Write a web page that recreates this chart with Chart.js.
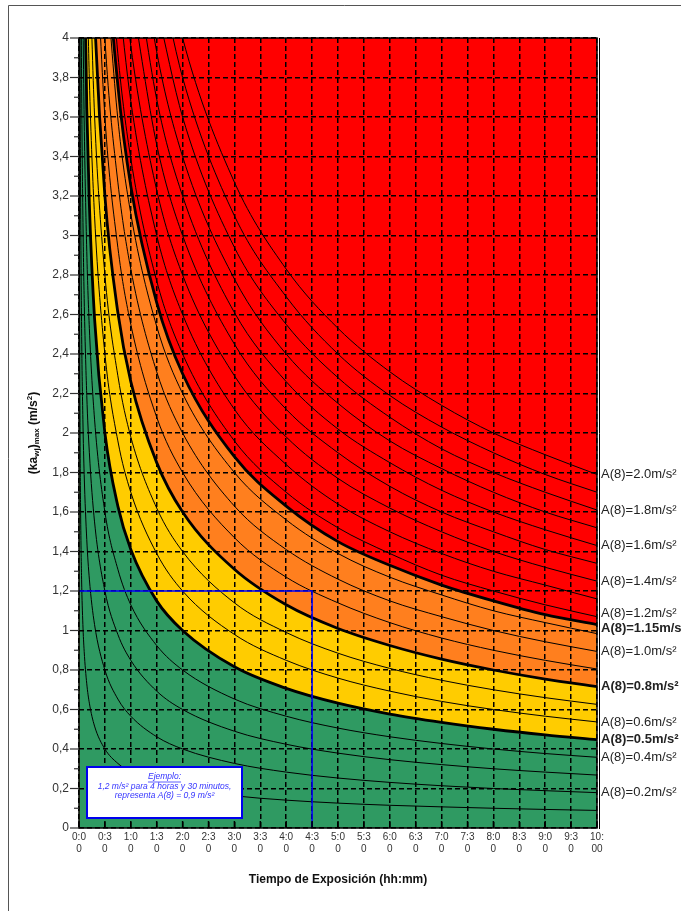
<!DOCTYPE html>
<html>
<head>
<meta charset="utf-8">
<script src="https://cdn.jsdelivr.net/npm/chart.js@4.4.1/dist/chart.umd.min.js"></script>
<style>
    html, body { margin: 0; padding: 0; background: #fff; }
    #wrap { width: 681px; height: 911px; }
</style>
</head>
<body>
<div id="wrap"><canvas id="vibChart" width="681" height="911"></canvas></div>
<script>
const timeHours = [0.003, 0.005, 0.01, 0.02, 0.03, 0.05, 0.075, 0.1, 0.15, 0.2, 0.3, 0.5, 0.75, 1, 1.5, 2, 3, 4, 5, 6, 7, 8, 9, 10];

const accA01 = [5.16, 4.0, 2.83, 2.0, 1.63, 1.26, 1.03, 0.894, 0.730, 0.632, 0.516, 0.400, 0.327, 0.283, 0.231, 0.200, 0.163, 0.141, 0.126, 0.115, 0.107, 0.100, 0.094, 0.089];
const accA02 = [null, null, 5.66, 4.0, 3.27, 2.53, 2.07, 1.79, 1.46, 1.26, 1.03, 0.800, 0.653, 0.566, 0.462, 0.400, 0.327, 0.283, 0.253, 0.231, 0.214, 0.200, 0.189, 0.179];
const accA03 = [null, null, null, null, 4.90, 3.79, 3.10, 2.68, 2.19, 1.90, 1.55, 1.20, 0.980, 0.849, 0.693, 0.600, 0.490, 0.424, 0.379, 0.346, 0.321, 0.300, 0.283, 0.268];
const accA04 = [null, null, null, null, null, null, 4.13, 3.58, 2.92, 2.53, 2.07, 1.60, 1.31, 1.13, 0.924, 0.800, 0.653, 0.566, 0.506, 0.462, 0.428, 0.400, 0.377, 0.358];
const accA05 = [25.8, 20.0, 14.1, 10.0, 8.16, 6.32, 5.16, 4.47, 3.65, 3.16, 2.58, 2.00, 1.63, 1.41, 1.15, 1.00, 0.816, 0.707, 0.632, 0.577, 0.535, 0.500, 0.471, 0.447];
const accA06 = [null, null, null, null, null, null, null, null, 4.38, 3.79, 3.10, 2.40, 1.96, 1.70, 1.39, 1.20, 0.980, 0.849, 0.759, 0.693, 0.641, 0.600, 0.566, 0.537];
const accA07 = [null, null, null, null, null, null, null, null, null, 4.43, 3.61, 2.80, 2.29, 1.98, 1.62, 1.40, 1.14, 0.990, 0.885, 0.808, 0.748, 0.700, 0.660, 0.626];
const accA08 = [41.3, 32.0, 22.6, 16.0, 13.1, 10.1, 8.26, 7.16, 5.84, 5.06, 4.13, 3.20, 2.61, 2.26, 1.85, 1.60, 1.31, 1.13, 1.01, 0.924, 0.855, 0.800, 0.754, 0.716];
const accA09 = [null, null, null, null, null, null, null, null, null, null, 4.65, 3.60, 2.94, 2.55, 2.08, 1.80, 1.47, 1.27, 1.14, 1.04, 0.962, 0.900, 0.849, 0.805];
const accA10 = [null, null, null, null, null, null, null, null, null, null, 5.16, 4.00, 3.27, 2.83, 2.31, 2.00, 1.63, 1.41, 1.26, 1.15, 1.07, 1.00, 0.943, 0.894];
const accA11 = [null, null, null, null, null, null, null, null, null, null, null, 4.40, 3.59, 3.11, 2.54, 2.20, 1.80, 1.56, 1.39, 1.27, 1.18, 1.10, 1.04, 0.984];
const accA115 = [59.4, 46.0, 32.5, 23.0, 18.8, 14.5, 11.9, 10.3, 8.40, 7.27, 5.94, 4.60, 3.76, 3.25, 2.66, 2.30, 1.88, 1.63, 1.45, 1.33, 1.23, 1.15, 1.08, 1.03];
const accA12 = [null, null, null, null, null, null, null, null, null, null, null, 4.80, 3.92, 3.39, 2.77, 2.40, 1.96, 1.70, 1.52, 1.39, 1.28, 1.20, 1.13, 1.07];
const accA13 = [null, null, null, null, null, null, null, null, null, null, null, null, 4.25, 3.68, 3.00, 2.60, 2.12, 1.84, 1.64, 1.50, 1.39, 1.30, 1.23, 1.16];
const accA14 = [null, null, null, null, null, null, null, null, null, null, null, null, 4.57, 3.96, 3.23, 2.80, 2.29, 1.98, 1.77, 1.62, 1.50, 1.40, 1.32, 1.25];
const accA15 = [null, null, null, null, null, null, null, null, null, null, null, null, null, 4.24, 3.46, 3.00, 2.45, 2.12, 1.90, 1.73, 1.60, 1.50, 1.41, 1.34];
const accA16 = [null, null, null, null, null, null, null, null, null, null, null, null, null, 4.53, 3.69, 3.20, 2.61, 2.26, 2.02, 1.85, 1.71, 1.60, 1.51, 1.43];
const accA17 = [null, null, null, null, null, null, null, null, null, null, null, null, null, 4.81, 3.93, 3.40, 2.78, 2.40, 2.15, 1.96, 1.82, 1.70, 1.60, 1.52];
const accA18 = [null, null, null, null, null, null, null, null, null, null, null, null, null, null, 4.16, 3.60, 2.94, 2.55, 2.28, 2.08, 1.92, 1.80, 1.70, 1.61];
const accA19 = [null, null, null, null, null, null, null, null, null, null, null, null, null, null, 4.39, 3.80, 3.10, 2.69, 2.40, 2.19, 2.03, 1.90, 1.79, 1.70];
const accA20 = [null, null, null, null, null, null, null, null, null, null, null, null, null, null, 4.62, 4.00, 3.27, 2.83, 2.53, 2.31, 2.14, 2.00, 1.89, 1.79];

const boldLevels = [0.5, 0.8, 1.15];
const labelLevels = [2.0, 1.8, 1.6, 1.4, 1.2, 1.15, 1.0, 0.8, 0.6, 0.5, 0.4, 0.2];
const labelTexts = ['A(8)=2.0m/s²', 'A(8)=1.8m/s²', 'A(8)=1.6m/s²', 'A(8)=1.4m/s²', 'A(8)=1.2m/s²', 'A(8)=1.15m/s²',
    'A(8)=1.0m/s²', 'A(8)=0.8m/s²', 'A(8)=0.6m/s²', 'A(8)=0.5m/s²', 'A(8)=0.4m/s²', 'A(8)=0.2m/s²'];

// Worked example: 1.2 m/s² for 4 h 30 min
const exampleTime = [0, 4.5, 4.5];
const exampleAccel = [1.2, 1.2, 0];

const xTickLabels = ['0:00', '0:30', '1:00', '1:30', '2:00', '2:30', '3:00', '3:30', '4:00', '4:30', '5:00',
    '5:30', '6:00', '6:30', '7:00', '7:30', '8:00', '8:30', '9:00', '9:30', '10:00'];
const yTickLabels = ['0', '0,2', '0,4', '0,6', '0,8', '1', '1,2', '1,4', '1,6', '1,8', '2',
    '2,2', '2,4', '2,6', '2,8', '3', '3,2', '3,4', '3,6', '3,8', '4'];

const curves = [
    { level: 0.1, values: accA01 }, { level: 0.2, values: accA02 }, { level: 0.3, values: accA03 },
    { level: 0.4, values: accA04 }, { level: 0.5, values: accA05 }, { level: 0.6, values: accA06 },
    { level: 0.7, values: accA07 }, { level: 0.8, values: accA08 }, { level: 0.9, values: accA09 },
    { level: 1.0, values: accA10 }, { level: 1.1, values: accA11 }, { level: 1.15, values: accA115 },
    { level: 1.2, values: accA12 }, { level: 1.3, values: accA13 }, { level: 1.4, values: accA14 },
    { level: 1.5, values: accA15 }, { level: 1.6, values: accA16 }, { level: 1.7, values: accA17 },
    { level: 1.8, values: accA18 }, { level: 1.9, values: accA19 }, { level: 2.0, values: accA20 }
];

const FONT = '"Liberation Sans", Arial, sans-serif';
const zoneGreen = '#2F9A62';
const zoneYellow = '#FFCC00';
const zoneOrange = '#FF7F1E';
const zoneRed = '#FF0000';

function toPoints(values, times) {
    return times.map((t, i) => ({ x: t, y: values[i] })).filter(p => p.y !== null);
}

const datasets = [];

// Example path on top
datasets.push({
    data: toPoints(exampleAccel, exampleTime),
    borderColor: '#0000FF',
    borderWidth: 1.5,
    tension: 0,
    cubicInterpolationMode: 'default',
    fill: false,
    order: 0
});

// Iso-A(8) curves
curves.forEach(c => {
    datasets.push({
        data: toPoints(c.values, timeHours),
        borderColor: '#000',
        borderWidth: boldLevels.includes(c.level) ? 2.8 : 1,
        fill: false,
        order: 1
    });
});

// Colour zones (drawn before the grid)
const zones = [
    { values: accA05, fill: 'origin', color: zoneGreen, order: 10 },
    { values: accA08, fill: 'origin', color: zoneYellow, order: 11 },
    { values: accA115, fill: 'origin', color: zoneOrange, order: 12 },
    { values: accA115, fill: 'end', color: zoneRed, order: 13 }
];
zones.forEach(z => {
    datasets.push({
        data: toPoints(z.values, timeHours),
        borderColor: 'rgba(0,0,0,0)',
        borderWidth: 0,
        backgroundColor: z.color,
        fill: z.fill,
        order: z.order
    });
});

function drawLine(ctx, x1, y1, x2, y2) {
    ctx.beginPath();
    ctx.moveTo(x1, y1);
    ctx.lineTo(x2, y2);
    ctx.stroke();
}

const overlayPlugin = {
    id: 'overlay',
    afterDraw(chart) {
        const { ctx, chartArea: a } = chart;
        const xs = chart.scales.x;
        const ys = chart.scales.y;
        ctx.save();

        // page frame
        ctx.strokeStyle = '#555';
        ctx.lineWidth = 1;
        ctx.beginPath();
        ctx.moveTo(8.5, 911);
        ctx.lineTo(8.5, 5.5);
        ctx.lineTo(681, 5.5);
        ctx.stroke();

        // plot border
        ctx.strokeStyle = '#000';
        ctx.lineWidth = 1.5;
        ctx.strokeRect(a.left, a.top, a.right - a.left, a.bottom - a.top);
        ctx.lineWidth = 1;
        drawLine(ctx, a.right + 2.5, a.top, a.right + 2.5, a.bottom + 1);

        // x ticks (inward)
        ctx.lineWidth = 1.5;
        xs.ticks.forEach(t => {
            const px = xs.getPixelForValue(t.value);
            drawLine(ctx, px, a.bottom, px, a.bottom - 7);
        });

        // y ticks (outward, major / minor)
        ctx.strokeStyle = '#333';
        ctx.lineWidth = 1.2;
        ys.ticks.forEach(t => {
            const py = ys.getPixelForValue(t.value);
            const major = Math.round(t.value * 10) % 2 === 0;
            drawLine(ctx, a.left - (major ? 9 : 5), py, a.left, py);
        });

        // y title with subscripts
        const segs = [
            { t: '(ka', s: 12, dy: 0 }, { t: 'wj', s: 8, dy: 3 }, { t: ')', s: 12, dy: 0 },
            { t: 'max', s: 8, dy: 3 }, { t: ' (m/s', s: 12, dy: 0 }, { t: '2', s: 8, dy: -4 }, { t: ')', s: 12, dy: 0 }
        ];
        ctx.fillStyle = '#111';
        ctx.textBaseline = 'middle';
        ctx.textAlign = 'left';
        let total = 0;
        segs.forEach(sg => { ctx.font = `bold ${sg.s}px ${FONT}`; sg.w = ctx.measureText(sg.t).width; total += sg.w; });
        ctx.save();
        ctx.translate(34, (a.top + a.bottom) / 2);
        ctx.rotate(-Math.PI / 2);
        let cx = -total / 2;
        segs.forEach(sg => {
            ctx.font = `bold ${sg.s}px ${FONT}`;
            ctx.fillText(sg.t, cx, sg.dy);
            cx += sg.w;
        });
        ctx.restore();

        // x title
        ctx.font = `bold 12px ${FONT}`;
        ctx.textAlign = 'center';
        ctx.fillText('Tiempo de Exposición (hh:mm)', (a.left + a.right) / 2, 880);

        // curve labels on the right
        const items = labelLevels.map((lv, i) => {
            const c = curves.find(k => k.level === lv);
            return { text: labelTexts[i], bold: boldLevels.includes(lv), y: ys.getPixelForValue(c.values[c.values.length - 1]) };
        });
        items.sort((p, q) => p.y - q.y);
        for (let i = 1; i < items.length; i++) {
            const gap = items[i].y - items[i - 1].y;
            if (gap < 15) {
                const d = (15 - gap) / 2;
                items[i - 1].y -= d;
                items[i].y += d;
            }
        }
        ctx.textAlign = 'left';
        ctx.fillStyle = '#222';
        items.forEach(it => {
            ctx.font = `${it.bold ? 'bold ' : ''}13px ${FONT}`;
            ctx.fillText(it.text, a.right + 4, it.y);
        });

        // example box
        const bx = a.left + 8, by = a.bottom - 61, bw = 155, bh = 51;
        ctx.fillStyle = '#fff';
        ctx.fillRect(bx, by, bw, bh);
        ctx.strokeStyle = '#0000EE';
        ctx.lineWidth = 2;
        ctx.strokeRect(bx, by, bw, bh);
        ctx.fillStyle = '#3535FF';
        ctx.textAlign = 'center';
        ctx.font = `italic 8.5px ${FONT}`;
        const mx = bx + bw / 2;
        ctx.fillText('Ejemplo:', mx, by + 10);
        const ew = ctx.measureText('Ejemplo:').width;
        ctx.strokeStyle = '#3535FF';
        ctx.lineWidth = 0.8;
        drawLine(ctx, mx - ew / 2, by + 15, mx + ew / 2, by + 15);
        ctx.fillText('1,2 m/s² para 4 horas y 30 minutos,', mx, by + 20);
        ctx.fillText('representa A(8) = 0,9 m/s²', mx, by + 29);

        ctx.restore();
    }
};

new Chart(document.getElementById('vibChart'), {
    type: 'line',
    data: { datasets },
    options: {
        responsive: false,
        animation: false,
        events: [],
        layout: { padding: { top: 38, right: 84, left: 0, bottom: 0 } },
        elements: {
            point: { radius: 0 },
            line: { cubicInterpolationMode: 'monotone' }
        },
        plugins: {
            legend: { display: false },
            tooltip: { enabled: false },
            filler: { drawTime: 'beforeDraw', propagate: false }
        },
        scales: {
            x: {
                type: 'linear',
                min: 0,
                max: 10,
                afterFit: s => { s.height = 83; },
                ticks: {
                    stepSize: 0.5,
                    autoSkip: false,
                    maxRotation: 0,
                    minRotation: 0,
                    padding: 3,
                    color: '#333',
                    font: { family: FONT, size: 10 },
                    callback: (v, i) => {
                        const lbl = xTickLabels[i] || '';
                        return [lbl.slice(0, 3), lbl.slice(3)];
                    }
                },
                grid: { color: '#000', lineWidth: 1.5, drawTicks: false },
                border: { display: false, dash: [5, 3] }
            },
            y: {
                type: 'linear',
                min: 0,
                max: 4,
                afterFit: s => { s.width = 79; },
                ticks: {
                    stepSize: 0.1,
                    autoSkip: false,
                    padding: 10,
                    color: '#333',
                    font: { family: FONT, size: 12 },
                    callback: v => {
                        const k = Math.round(v * 10);
                        return k % 2 === 0 ? yTickLabels[k / 2] : '';
                    }
                },
                grid: {
                    color: c => (c.tick && Math.round(c.tick.value * 10) % 2 === 0) ? '#000' : 'rgba(0,0,0,0)',
                    lineWidth: 1.5,
                    drawTicks: false
                },
                border: { display: false, dash: [5, 3] }
            }
        }
    },
    plugins: [overlayPlugin]
});
</script>
</body>
</html>
